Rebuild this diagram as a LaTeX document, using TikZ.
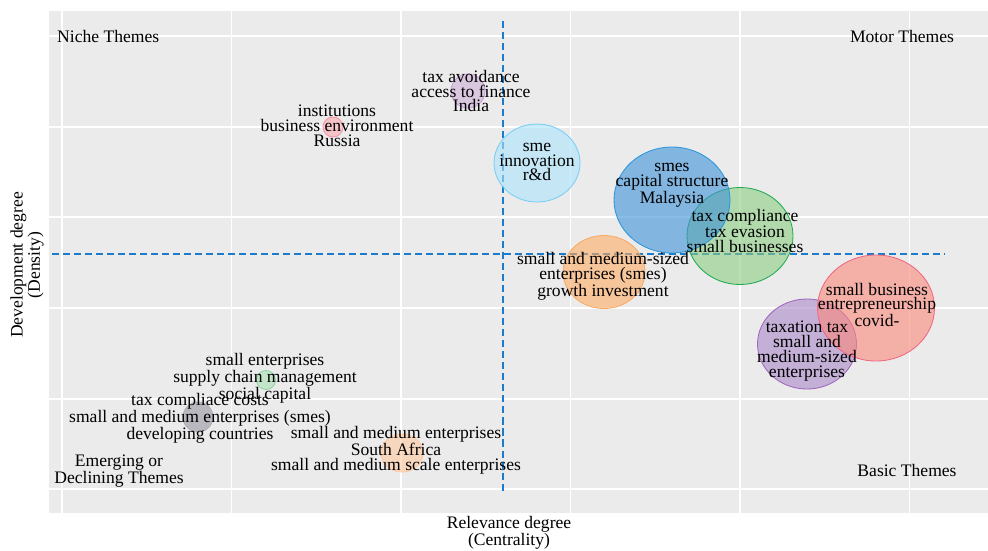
\documentclass[tikz,border=0pt]{standalone}
\usepackage{fontspec}
\setmainfont{Liberation Serif}
\usetikzlibrary{shapes}

\definecolor{panel_bg}{HTML}{EBEBEB}
\definecolor{cut_blue}{HTML}{1C7CCB}
\definecolor{india_c}{RGB}{205,175,215}
\definecolor{russia_c}{RGB}{252,170,175}
\definecolor{sme_c}{RGB}{170,228,252}
\definecolor{smes_c}{RGB}{60,145,215}
\definecolor{comp_c}{RGB}{140,205,130}
\definecolor{sized_c}{RGB}{255,172,100}
\definecolor{covid_c}{RGB}{250,135,122}
\definecolor{taxation_c}{RGB}{170,135,200}
\definecolor{supply_c}{RGB}{170,225,180}
\definecolor{costs_c}{RGB}{150,150,160}
\definecolor{africa_c}{RGB}{255,200,160}
\definecolor{india_d}{RGB}{200,160,215}
\definecolor{russia_d}{RGB}{240,150,165}
\definecolor{sme_d}{RGB}{120,205,245}
\definecolor{smes_d}{RGB}{40,150,220}
\definecolor{comp_d}{RGB}{30,170,80}
\definecolor{sized_d}{RGB}{247,170,100}
\definecolor{covid_d}{RGB}{240,100,130}
\definecolor{taxation_d}{RGB}{160,100,190}
\definecolor{supply_d}{RGB}{140,210,165}
\definecolor{costs_d}{RGB}{175,175,180}

\tikzstyle{bubble}=[ellipse, inner sep=0pt, line width=0.7pt, fill opacity=0.6]
\tikzstyle{theme_lbl}=[align=center, inner sep=0pt, text=black, font=\fontsize{15}{12.6}\selectfont]
\tikzstyle{grid_line}=[white, line width=0.9pt]
\tikzstyle{cut_line}=[cut_blue, line width=1.3pt, dash pattern=on 6pt off 3.4pt]

\begin{document}
\begin{tikzpicture}[x=0.03cm,y=-0.03cm]
\useasboundingbox (0,0) rectangle (988,550);

\fill[panel_bg] (49,11) rectangle (988,513);
\foreach \gx in {62,231.5,401,570.5,740,909.5}
  \draw[grid_line] (\gx,11) -- (\gx,513);
\foreach \gy in {36,127,217,308,399,489}
  \draw[grid_line] (49,\gy) -- (988,\gy);

\coordinate (h_left) at (52,254);
\coordinate (h_right) at (945,254);
\coordinate (v_top) at (503,21);
\coordinate (v_bottom) at (503,492);
\draw[cut_line] (h_left) -- (h_right);
\draw[cut_line] (v_top) -- (v_bottom);

\node[bubble, draw=india_d, fill=india_c, minimum size=1.02cm] (india_bub) at (468,91) {};
\node[bubble, draw=russia_d, fill=russia_c, minimum size=0.6cm] (russia_bub) at (333,127) {};
\node[bubble, draw=sme_d, fill=sme_c, minimum width=2.58cm, minimum height=2.34cm] (sme_bub) at (537,163) {};
\node[bubble, draw=comp_d, fill=comp_c, minimum width=3.18cm, minimum height=2.91cm] (comp_bub) at (740,236) {};
\node[bubble, draw=smes_d, fill=smes_c, minimum width=3.48cm, minimum height=3.18cm] (smes_bub) at (672,200) {};
\node[bubble, draw=sized_d, fill=sized_c, minimum width=2.46cm, minimum height=2.19cm] (sized_bub) at (604,272) {};
\node[bubble, draw=taxation_d, fill=taxation_c, minimum width=2.97cm, minimum height=2.7cm] (taxation_bub) at (807,344) {};
\node[bubble, draw=covid_d, fill=covid_c, minimum width=3.51cm, minimum height=3.18cm] (covid_bub) at (876,308) {};
\node[bubble, draw=supply_d, fill=supply_c, minimum size=0.57cm] (supply_bub) at (266,380) {};
\node[bubble, draw=costs_d, fill=costs_c, minimum size=0.9cm] (costs_bub) at (198,417) {};
\node[bubble, draw=africa_c, fill=africa_c, minimum width=1.26cm, minimum height=1.14cm] (africa_bub) at (402,453) {};

\node[theme_lbl] (india_txt) at (471,91) {tax avoidance\\access to finance\\India};
\node[theme_lbl] (russia_txt) at (337,126) {institutions\\business environment\\Russia};
\node[theme_lbl] (sme_txt) at (537,162) {sme\\innovation\\r\&d};
\node[theme_lbl] (smes_txt) at (672,185) {smes\\capital structure\\Malaysia};
\node[theme_lbl] (comp_txt) at (745,231) {tax compliance\\tax evasion\\small businesses};
\node[theme_lbl] (sized_txt) at (603,276) {small and medium-sized\\enterprises (smes)\\growth investment};
\node[theme_lbl] (covid_txt) at (877,305) {small business\\entrepreneurship\\covid-};
\node[theme_lbl] (taxation_txt) at (807,351) {taxation tax\\small and\\medium-sized\\enterprises};
\node[theme_lbl] (supply_txt) at (265,378) {small enterprises\\supply chain management\\social capital};
\node[theme_lbl] (costs_txt) at (200,418) {tax compliace costs\\small and medium enterprises (smes)\\developing countries};
\node[theme_lbl] (africa_txt) at (396,450) {small and medium enterprises\\South Africa\\small and medium scale enterprises};

\node[theme_lbl, anchor=west] (niche_txt) at (57,36) {Niche Themes};
\node[theme_lbl] (motor_txt) at (902,36) {Motor Themes};
\node[theme_lbl] (emerging_txt) at (119,471) {Emerging or\\Declining Themes};
\node[theme_lbl] (basic_txt) at (907,470) {Basic Themes};

\node[theme_lbl] (x_title) at (509,533) {Relevance degree\\(Centrality)};
\node[theme_lbl, rotate=90] (y_title) at (27,265) {Development degree\\(Density)};
\end{tikzpicture}
\end{document}
